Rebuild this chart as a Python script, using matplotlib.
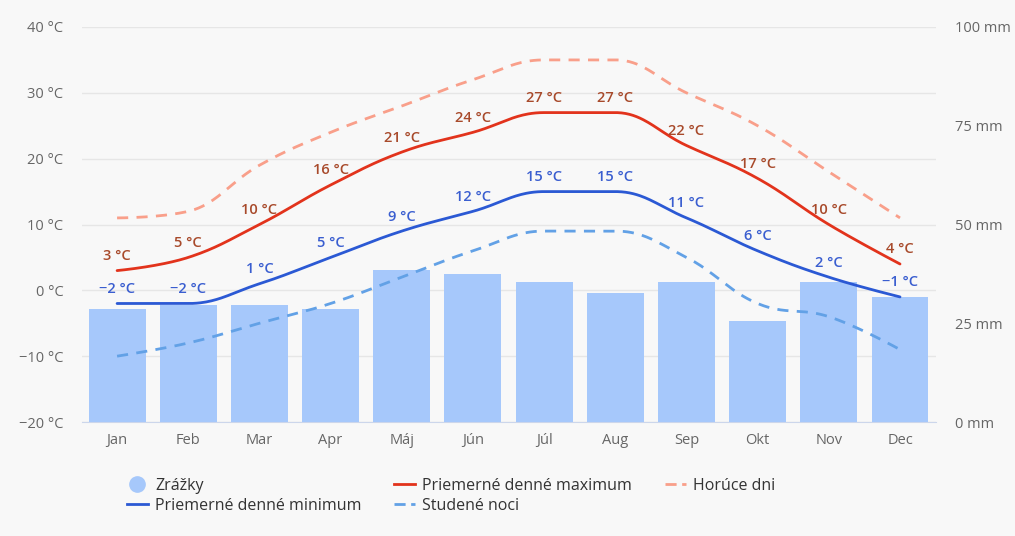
import numpy as np
import matplotlib
matplotlib.use("Agg")
import matplotlib.pyplot as plt
from matplotlib.lines import Line2D

plt.rcParams['font.family'] = ['Open Sans', 'DejaVu Sans']

months = ["Jan", "Feb", "Mar", "Apr", "Máj", "Jún", "Júl", "Aug", "Sep", "Okt", "Nov", "Dec"]
precip_mm = [28.6, 29.6, 29.6, 28.5, 38.5, 37.5, 35.5, 32.6, 35.5, 25.6, 35.5, 31.6]
avg_max = [3, 5, 10, 16, 21, 24, 27, 27, 22, 17, 10, 4]
avg_min = [-2, -2, 1, 5, 9, 12, 15, 15, 11, 6, 2, -1]
hot_days = [11, 12, 19, 24, 28, 32, 35, 35, 30, 25, 18, 11]
cold_nights = [-10, -8, -5, -2, 2, 6, 9, 9, 5, -2, -4, -9]

temp_ticks = [-20, -10, 0, 10, 20, 30, 40]
mm_ticks = [0, 25, 50, 75, 100]

BG = '#f8f8f8'
C_BAR = '#a6c8fb'
C_MAX = '#e2331c'
C_MIN = '#2b59d4'
C_HOT = '#f99f8a'
C_COLD = '#62a1e6'
C_MAXLBL = '#a84a2b'
C_MINLBL = '#3a5ed0'
C_TXT = '#666666'
C_GRID = '#e6e6e6'


def hc_spline(ys, n=40):
    """Highcharts-style spline path through points (index, value)."""
    xs = np.arange(len(ys), dtype=float)
    ys = np.asarray(ys, dtype=float)
    sm, den = 1.5, 2.5
    lc = [None] * len(ys)
    rc = [None] * len(ys)
    for i in range(1, len(ys) - 1):
        px, py = xs[i], ys[i]
        lx_, ly_ = xs[i - 1], ys[i - 1]
        nx_, ny_ = xs[i + 1], ys[i + 1]
        lcx = (sm * px + lx_) / den
        lcy = (sm * py + ly_) / den
        rcx = (sm * px + nx_) / den
        rcy = (sm * py + ny_) / den
        corr = ((rcy - lcy) * (rcx - px)) / (rcx - lcx) + py - rcy
        lcy += corr
        rcy += corr
        if lcy > ly_ and lcy > py:
            lcy = max(ly_, py)
            rcy = 2 * py - lcy
        elif lcy < ly_ and lcy < py:
            lcy = min(ly_, py)
            rcy = 2 * py - lcy
        if rcy > ny_ and rcy > py:
            rcy = max(ny_, py)
            lcy = 2 * py - rcy
        elif rcy < ny_ and rcy < py:
            rcy = min(ny_, py)
            lcy = 2 * py - rcy
        lc[i] = (lcx, lcy)
        rc[i] = (rcx, rcy)
    X, Y = [xs[0]], [ys[0]]
    t = np.linspace(0, 1, n)[1:]
    for i in range(1, len(ys)):
        p0 = (xs[i - 1], ys[i - 1])
        p1 = rc[i - 1] if rc[i - 1] is not None else p0
        p3 = (xs[i], ys[i])
        p2 = lc[i] if lc[i] is not None else p3
        bx = (1 - t) ** 3 * p0[0] + 3 * (1 - t) ** 2 * t * p1[0] + 3 * (1 - t) * t ** 2 * p2[0] + t ** 3 * p3[0]
        by = (1 - t) ** 3 * p0[1] + 3 * (1 - t) ** 2 * t * p1[1] + 3 * (1 - t) * t ** 2 * p2[1] + t ** 3 * p3[1]
        X.extend(bx)
        Y.extend(by)
    return np.array(X), np.array(Y)


fig = plt.figure(figsize=(10.15, 5.36), dpi=100, facecolor=BG)
rect = [81.5 / 1015, (536 - 422) / 536, (935.6 - 81.5) / 1015, 395 / 536]

ax = fig.add_axes(rect)
ax.set_facecolor(BG)
x = np.arange(len(months))
ax.set_xlim(-0.5, len(months) - 0.5)
ax.set_ylim(-20, 40)
ax.set_yticks(temp_ticks)
ax.set_yticklabels([f"{t} °C".replace('-', '−') for t in temp_ticks])
ax.grid(axis='y', color=C_GRID, lw=1)
ax.set_axisbelow(True)
ax.set_xticks(x)
ax.set_xticklabels(months)
for s in ['top', 'right', 'left']:
    ax.spines[s].set_visible(False)
ax.spines['bottom'].set_color('#ccd6eb')
ax.tick_params(axis='both', length=0, colors=C_TXT, labelsize=10.5)
ax.tick_params(axis='y', pad=13)
ax.tick_params(axis='x', pad=8)

ax2 = ax.twinx()
ax2.set_ylim(0, 100)
ax2.set_yticks(mm_ticks)
ax2.set_yticklabels([f"{m} mm" for m in mm_ticks])
for s in ['top', 'right', 'left', 'bottom']:
    ax2.spines[s].set_visible(False)
ax2.tick_params(axis='y', length=0, colors=C_TXT, labelsize=10.5, pad=14)
ax2.bar(x, precip_mm, width=0.8, color=C_BAR, zorder=2)

ax3 = fig.add_axes(rect, sharex=ax, sharey=ax)
ax3.patch.set_visible(False)
ax3.axis('off')

lw = 2.0
for data, col, ls in [(hot_days, C_HOT, (0, (4, 3))), (cold_nights, C_COLD, (0, (4, 3))),
                      (avg_max, C_MAX, '-'), (avg_min, C_MIN, '-')]:
    sx, sy = hc_spline(data)
    ax3.plot(sx, sy, color=col, lw=lw, ls=ls, solid_capstyle='round', dash_capstyle='butt')

for data, col in [(avg_max, C_MAXLBL), (avg_min, C_MINLBL)]:
    for xi, v in zip(x, data):
        ax3.annotate(f"{v} °C".replace('-', '−'), (xi, v), xytext=(0, 10.5), textcoords='offset points',
                     ha='center', va='center', color=col, fontsize=10.5, fontweight='semibold')

handles = [
    Line2D([], [], ls='none', marker='o', markersize=11, markerfacecolor=C_BAR, markeredgecolor=C_BAR),
    Line2D([], [], color=C_MIN, lw=2),
    Line2D([], [], color=C_MAX, lw=2),
    Line2D([], [], color=C_COLD, lw=2, ls=(0, (4, 2))),
    Line2D([], [], color=C_HOT, lw=2, ls=(0, (4, 2))),
]
labels = ["Zrážky", "Priemerné denné minimum", "Priemerné denné maximum", "Studené noci", "Horúce dni"]
leg = fig.legend(handles, labels, ncol=3, loc='upper left', bbox_to_anchor=(127 / 1015, 1 - 478 / 536),
                 frameon=False, fontsize=11.5, handlelength=1.3, handletextpad=0.45,
                 columnspacing=2.05, labelspacing=0.22, borderaxespad=0, borderpad=0)
for t in leg.get_texts():
    t.set_color('#333333')

fig.savefig("out.png", dpi=100, facecolor=BG)
